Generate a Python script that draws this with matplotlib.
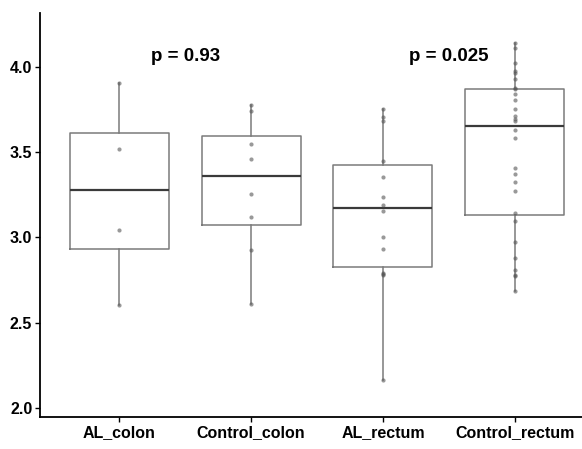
import numpy as np
import matplotlib
matplotlib.use("Agg")
from matplotlib import pyplot as plt

plt.rcParams["font.family"] = ["Liberation Sans", "DejaVu Sans"]

groups = ["AL_colon", "Control_colon", "AL_rectum", "Control_rectum"]

al_colon = [3.905, 3.515, 3.045, 2.605]
control_colon = [3.775, 3.742, 3.545, 3.461, 3.253, 3.122, 2.927, 2.61]
al_rectum = [3.750, 3.706, 3.683, 3.446, 3.352, 3.237, 3.192, 3.155,
             3.003, 2.931, 2.79, 2.785, 2.78, 2.167]
control_rectum = [4.139, 4.110, 4.019, 3.972, 3.962, 3.929, 3.875, 3.868,
                  3.839, 3.804, 3.750, 3.711, 3.691, 3.680, 3.627, 3.580,
                  3.408, 3.371, 3.326, 3.272, 3.142, 3.096, 2.972, 2.882,
                  2.810, 2.778, 2.772, 2.687]

p_labels = ["p = 0.93", "p = 0.025"]
p_y = 4.056

data = [al_colon, control_colon, al_rectum, control_rectum]
pos = np.arange(1, len(groups) + 1)

fig = plt.figure(figsize=(5.82, 4.49), dpi=100)
ax = fig.add_axes([40 / 582, 32 / 449, 554 / 582, 404 / 449])

ax.boxplot(data, positions=pos, widths=0.75, showfliers=False, showcaps=False,
           whis=1.5,
           boxprops=dict(color="#7a7a7a", linewidth=1.1),
           whiskerprops=dict(color="#7a7a7a", linewidth=1.1),
           medianprops=dict(color="#3a3a3a", linewidth=1.6))

for i, vals in zip(pos, data):
    ax.scatter(np.full(len(vals), i), vals, s=9, color="#555555", alpha=0.6,
               linewidths=0, zorder=3)

ax.text(1.5, p_y, p_labels[0], ha="center", va="center", fontsize=13.5,
        fontweight="bold")
ax.text(3.5, p_y, p_labels[1], ha="center", va="center", fontsize=13.5,
        fontweight="bold")

ax.set_xlim(0.4, 4.6)
ax.set_ylim(1.95, 4.313)
ax.set_yticks([2.0, 2.5, 3.0, 3.5, 4.0])
ax.set_yticklabels(["2.0", "2.5", "3.0", "3.5", "4.0"])
ax.set_xticks(pos)
ax.set_xticklabels(groups)
for lab in ax.get_xticklabels() + ax.get_yticklabels():
    lab.set_fontweight("bold")
    lab.set_fontsize(11.5)
ax.tick_params(length=3.5, width=1, color="black", pad=2)

for s in ["top", "right"]:
    ax.spines[s].set_visible(False)
for s in ["left", "bottom"]:
    ax.spines[s].set_linewidth(1.3)

plt.savefig("out.png", dpi=100)
plt.close()
